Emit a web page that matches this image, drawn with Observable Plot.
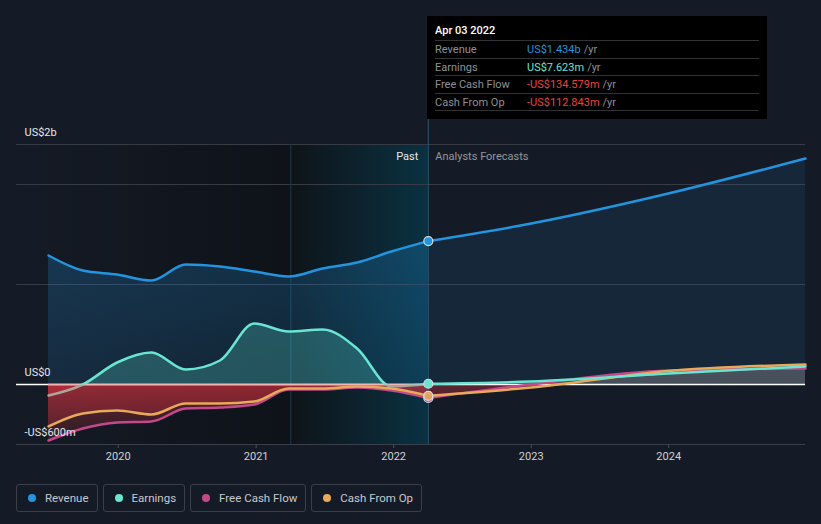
<!DOCTYPE html>
<html><head><meta charset="utf-8">
<script src="https://cdn.jsdelivr.net/npm/d3@7"></script>
<script src="https://cdn.jsdelivr.net/npm/@observablehq/plot@0.6"></script>
<style>
html,body{margin:0;padding:0;background:#151b26;}
#wrap{position:relative;width:821px;height:524px;overflow:hidden;font-family:Roboto,"Noto Sans",sans-serif;}
#chart{position:absolute;left:0;top:0;}
#tip{position:absolute;left:427px;top:16px;width:340px;height:103px;background:#000;box-sizing:border-box;padding:0 8px;}
#tip .t{height:24px;line-height:30px;color:#fff;font-size:11px;font-weight:500;border-bottom:1px solid #333;}
#tip .r{height:16.5px;line-height:17px;font-size:11px;border-bottom:1px solid #333;display:flex;color:#8e9196;}
#tip .r .l{width:92px;}
#tip .r .u{color:#8e9196;margin-left:3px;}
#legend{position:absolute;left:16px;top:484px;display:flex;gap:5px;}
#legend .it{height:26px;border:1px solid #3a3f4a;border-radius:3px;display:flex;align-items:center;padding:0 8px 0 11px;font-size:11.5px;color:#c6c9ce;}
#legend .d{width:8px;height:8px;border-radius:50%;margin-right:9px;}
</style></head><body>
<div id="wrap"><div id="chart"></div><div id="tip"></div><div id="legend"></div></div>
<script>
// ---- data (US$ billions) ----
const pastDates = ["2019-06-30","2019-09-29","2019-12-29","2020-03-29","2020-06-28","2020-09-27","2020-12-27","2021-03-28","2021-06-27","2021-09-26","2021-12-26","2022-04-03"];
const pastRevenue  = [1.29, 1.14, 1.10, 1.04, 1.20, 1.18, 1.13, 1.08, 1.16, 1.22, 1.33, 1.434];
const pastEarnings = [-0.11, 0.00, 0.22, 0.32, 0.15, 0.24, 0.61, 0.53, 0.55, 0.36, -0.02, 0.007623];
const pastFCF      = [-0.56, -0.44, -0.38, -0.37, -0.24, -0.23, -0.20, -0.05, -0.05, -0.03, -0.06, -0.134579];
const pastCFO      = [-0.42, -0.29, -0.26, -0.30, -0.19, -0.19, -0.17, -0.04, -0.04, -0.02, -0.04, -0.112843];

const forecastDates    = ["2022-04-03","2023-01-01","2023-12-31","2024-12-29"];
const forecastRevenue  = [1.434, 1.61, 1.91, 2.26];
const forecastEarnings = [0.007623, 0.03, 0.11, 0.18];
const forecastFCF      = [-0.134579, 0.00, 0.14, 0.16];
const forecastCFO      = [-0.112843, -0.03, 0.135, 0.20];

const xDomain = ["2019-04-06","2024-12-29"];
const yDomain = [-0.6, 2.4];
const highlightStart = "2021-04-03";
const nowDate = "2022-04-03";
const xTickYears = [2020, 2021, 2022, 2023, 2024];
const gridValues = [1, 2, 2.4];
const yLabels = [{v: 2.4, label: "US$2b"}, {v: 0, label: "US$0"}, {v: -0.6, label: "-US$600m"}];

const seriesNames = ["Revenue","Earnings","Free Cash Flow","Cash From Op"];
const seriesColors = ["#2394df","#6ae5d1","#c4488c","#e8aa5a"];
const tipTitle = "Apr 03 2022";
const tipValues = ["US$1.434b","US$7.623m","-US$134.579m","-US$112.843m"];
const tipColors = ["#2394df","#6ae5d1","#e8453c","#e8453c"];

// ---- layout ----
const W = 821, H = 470, mL = 16, mR = 16, mT = 144, mB = 26;

// ---- build ----
const parse = d3.utcParse("%Y-%m-%d");
const past = pastDates.map((d,i)=>({date: parse(d), revenue: pastRevenue[i], earnings: pastEarnings[i], fcf: pastFCF[i], cfo: pastCFO[i]}));
const fut = forecastDates.map((d,i)=>({date: parse(d), revenue: forecastRevenue[i], earnings: forecastEarnings[i], fcf: forecastFCF[i], cfo: forecastCFO[i]}));
const x0 = parse(xDomain[0]), x1 = parse(xDomain[1]), hs = parse(highlightStart), now = parse(nowDate);
const nowRow = past[past.length-1];

const curve = "monotone-x";
const bands = [{a: x0, b: hs, f: "url(#gPast)"}, {a: hs, b: now, f: "url(#gHigh)"}];

// area order matters: indices used for clipping below
const areaMarks = [
  [past, "revenue", {fill: "url(#gRev)"}, null],
  [fut, "revenue", {fill: "#2394df", fillOpacity: 0.1}, null],
  [past, "earnings", {fill: "#5ce0cf", fillOpacity: 0.25}, "cPos"],
  [fut, "earnings", {fill: "#a8a2a2", fillOpacity: 0.13}, "cPos"],
  [fut, "fcf", {fill: "#a8a2a2", fillOpacity: 0.13}, "cPos"],
  [fut, "cfo", {fill: "#a8a2a2", fillOpacity: 0.13}, "cPos"],
  [past, "earnings", {fill: "url(#gNeg)"}, "cNeg"],
  [past, "fcf", {fill: "url(#gNeg)"}, "cNeg"],
  [past, "cfo", {fill: "url(#gNeg)"}, "cNeg"],
  [fut, "fcf", {fill: "url(#gNeg)", fillOpacity: 0.5}, "cNeg"],
  [fut, "cfo", {fill: "url(#gNeg)", fillOpacity: 0.5}, "cNeg"]
];
const lineMarks = [
  [past, "revenue", seriesColors[0], null],
  [fut, "revenue", seriesColors[0], null],
  [past, "fcf", seriesColors[2], null],
  [fut, "fcf", seriesColors[2], null],
  [past, "cfo", seriesColors[3], null],
  [fut, "cfo", seriesColors[3], null],
  [past, "earnings", "#ada59c", "cNeg"],
  [past, "earnings", seriesColors[1], "cPos"],
  [fut, "earnings", seriesColors[1], null]
];

const marks = [
  Plot.rect(bands, {x1: "a", x2: "b", y1: yDomain[0], y2: yDomain[1], fill: "f"}),
  Plot.ruleY(gridValues, {stroke: "#363b45", strokeWidth: 1}),
  Plot.ruleX([hs], {stroke: "#1b3a48", strokeWidth: 1}),
  ...areaMarks.map(([data, key, opts]) => Plot.areaY(data, {x: "date", y1: 0, y2: key, curve, ...opts})),
  Plot.ruleY([0], {stroke: "#ffffff", strokeWidth: 1.5}),
  Plot.ruleY([0], {x1: past[0].date, x2: now, stroke: "#f3b4b4", strokeWidth: 1.5}),
  Plot.ruleY([yDomain[0]], {stroke: "#3a3f49", strokeWidth: 1}),
  Plot.ruleX([now], {stroke: "#2b5566", strokeWidth: 1, insetTop: -128}),
  Plot.axisX(xTickYears.map(y => new Date(Date.UTC(y,0,1))), {tickFormat: d3.utcFormat("%Y"), tickSize: 4, tickPadding: 4, stroke: "#4a4f59", fill: "#cfd2d6", fontSize: 11, anchor: "bottom"}),
  ...lineMarks.map(([data, key, color]) => Plot.lineY(data, {x: "date", y: key, curve, stroke: color, strokeWidth: 2.5})),
  Plot.dot([nowRow], {x: "date", y: "fcf", r: 4.5, fill: seriesColors[2], stroke: "#d6dbe0", strokeWidth: 1.2}),
  Plot.dot([nowRow], {x: "date", y: "cfo", r: 4.5, fill: seriesColors[3], stroke: "#d6dbe0", strokeWidth: 1.2, fillOpacity: 0.9}),
  Plot.dot([nowRow], {x: "date", y: "earnings", r: 4.5, fill: seriesColors[1], stroke: "#d6dbe0", strokeWidth: 1.2}),
  Plot.dot([nowRow], {x: "date", y: "revenue", r: 4.5, fill: seriesColors[0], stroke: "#d6dbe0", strokeWidth: 1.2}),
  Plot.text(yLabels, {x: x0, y: "v", text: "label", dx: 8, dy: -12, textAnchor: "start", fill: "#e4e6e9", fontSize: 11}),
  Plot.text(["Past"], {x: now, y: yDomain[1], text: d => d, dx: -10, dy: 12, textAnchor: "end", fill: "#e8e8e8", fontSize: 11}),
  Plot.text(["Analysts Forecasts"], {x: now, y: yDomain[1], text: d => d, dx: 7, dy: 12, textAnchor: "start", fill: "#93969b", fontSize: 11})
];

const plot = Plot.plot({
  width: W, height: H,
  marginLeft: mL, marginRight: mR, marginTop: mT, marginBottom: mB,
  x: {type: "utc", domain: [x0, x1]},
  y: {domain: yDomain, axis: null},
  style: {background: "transparent", fontFamily: "Roboto, 'Noto Sans', sans-serif", fontSize: "11px", overflow: "visible"},
  marks
});

// defs: gradients & clip paths (same linear mapping as the plot's y scale)
const yPix = d3.scaleLinear(yDomain, [H - mB, mT]);
const yZero = yPix(0), yTop = yPix(yDomain[1]), yBot = yPix(yDomain[0]);
const ns = "http://www.w3.org/2000/svg";
function el(tag, attrs, parent) {
  const e = document.createElementNS(ns, tag);
  for (const k in attrs) e.setAttribute(k, attrs[k]);
  if (parent) parent.appendChild(e);
  return e;
}
const defs = el("defs", {});
function grad(id, attrs, stops) {
  const g = el("linearGradient", Object.assign({id}, attrs), defs);
  stops.forEach(s => el("stop", s, g));
}
grad("gPast", {x1: 0, x2: 1, y1: 0, y2: 0}, [{offset: 0, "stop-color": "#0c0f14", "stop-opacity": 0}, {offset: 1, "stop-color": "#0c0f14", "stop-opacity": 0.75}]);
grad("gHigh", {x1: 0, x2: 1, y1: 0, y2: 0}, [{offset: 0, "stop-color": "#0e1419"}, {offset: 1, "stop-color": "#0a3142"}]);
grad("gRev", {gradientUnits: "userSpaceOnUse", x1: 0, x2: 0, y1: yTop, y2: yZero}, [{offset: 0, "stop-color": "#2394df", "stop-opacity": 0.32}, {offset: 1, "stop-color": "#2394df", "stop-opacity": 0.14}]);
grad("gNeg", {gradientUnits: "userSpaceOnUse", x1: 0, x2: 0, y1: yZero, y2: yBot}, [{offset: 0, "stop-color": "#d2323f", "stop-opacity": 0.42}, {offset: 1, "stop-color": "#d2323f", "stop-opacity": 0.12}]);
const cPos = el("clipPath", {id: "cPos", clipPathUnits: "userSpaceOnUse"}, defs);
el("rect", {x: 0, y: 0, width: W, height: yZero}, cPos);
const cNeg = el("clipPath", {id: "cNeg", clipPathUnits: "userSpaceOnUse"}, defs);
el("rect", {x: 0, y: yZero, width: W, height: H - yZero}, cNeg);
plot.insertBefore(defs, plot.firstChild);

const areaGroups = plot.querySelectorAll('g[aria-label="area"]');
areaMarks.forEach((m, i) => { if (m[3] && areaGroups[i]) areaGroups[i].setAttribute("clip-path", `url(#${m[3]})`); });
const lineGroups = plot.querySelectorAll('g[aria-label="line"]');
lineMarks.forEach((m, i) => { if (m[3] && lineGroups[i]) lineGroups[i].setAttribute("clip-path", `url(#${m[3]})`); });
document.getElementById("chart").appendChild(plot);

// tooltip
const tip = document.getElementById("tip");
tip.innerHTML = `<div class="t">${tipTitle}</div>` + seriesNames.map((n,i) =>
  `<div class="r"><span class="l">${n}</span><span style="color:${tipColors[i]}">${tipValues[i]}</span><span class="u">/yr</span></div>`).join("");

// legend
document.getElementById("legend").innerHTML = seriesNames.map((n,i) =>
  `<div class="it"><span class="d" style="background:${seriesColors[i]}"></span>${n}</div>`).join("");
</script>
</body></html>
